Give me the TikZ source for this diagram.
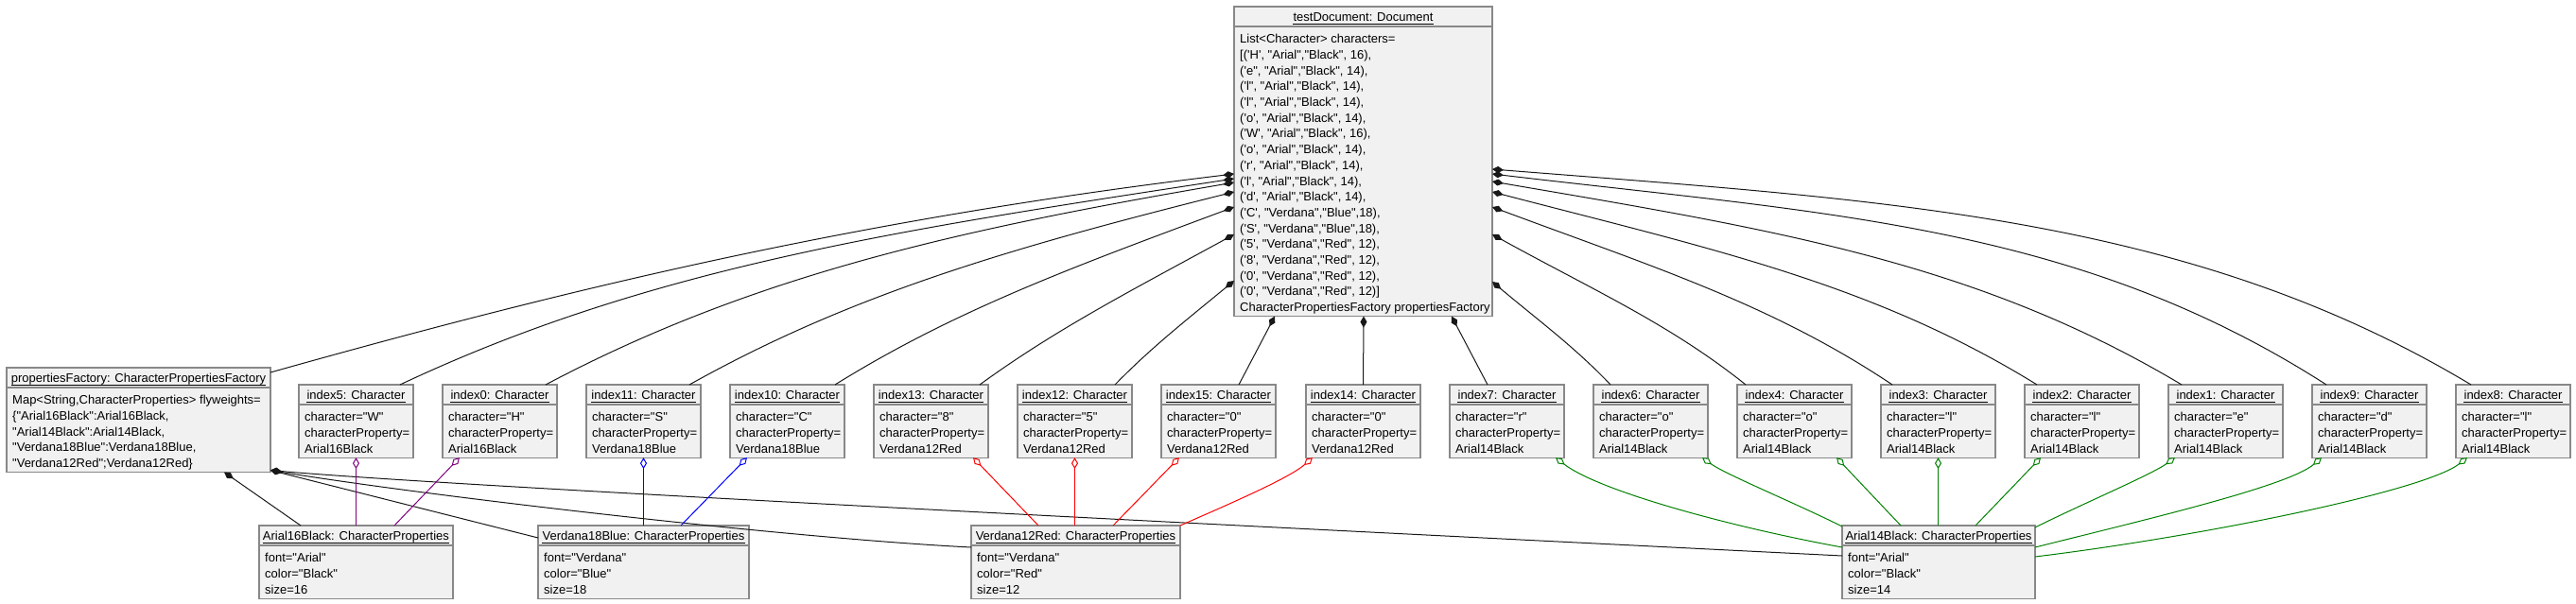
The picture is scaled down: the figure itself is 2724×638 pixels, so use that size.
\documentclass[tikz,border=0pt]{standalone}
\usepackage{fontspec}
\setmainfont{Liberation Sans}[Ligatures=TeXOff]
\usetikzlibrary{arrows.meta,calc}
\definecolor{boxfill}{HTML}{F1F1F1}
\definecolor{boxborder}{HTML}{888888}
\definecolor{lnk}{HTML}{181818}
\definecolor{cpurple}{HTML}{800080}
\definecolor{cblue}{HTML}{0000FF}
\definecolor{cred}{HTML}{FF0000}
\definecolor{cgreen}{HTML}{008000}
\newcommand{\objfont}{\fontsize{13pt}{16.7pt}\selectfont}
\tikzset{
  objbox/.style={draw=boxborder, fill=boxfill, line width=1.2pt, inner sep=0pt, outer sep=0pt, anchor=north west},
  divline/.style={draw=boxborder, line width=1.2pt},
  titletext/.style={anchor=base, inner sep=0pt, font=\objfont},
  bodytext/.style={anchor=north west, inner sep=0pt, align=left, font=\objfont},
  uline/.style={line width=0.9pt, draw=black},
  comp/.style={draw=lnk, line width=1pt, {Diamond[length=12pt,width=7pt]}-},
  aggr/.style={line width=1pt, {Diamond[length=12pt,width=7pt,fill=white]}-},
}
\newcommand{\umlobj}[7]{%
  \pgfmathsetmacro{\objh}{27+#5*16.7}%
  \node[objbox, minimum width=#4pt, minimum height=\objh pt] (#1) at (#2,#3) {};
  \draw[divline] ([shift={(0,21)}]#1.north west) -- ([shift={(0,21)}]#1.north east);
  \node[titletext] (#1-t) at ([shift={(0,15.5)}]#1.north) {#6};
  \draw[uline] ([shift={(0,2.5)}]#1-t.base west) -- ([shift={(0,2.5)}]#1-t.base east);
  \node[bodytext] (#1-b) at ([shift={(6,26)}]#1.north west) {\rule{0pt}{12.5pt}#7};
}
\begin{document}
\begin{tikzpicture}[x=1pt,y=-1pt]
\useasboundingbox (0,0) rectangle (2724,638);

% document
\umlobj{doc}{1305}{7}{273}{18}{testDocument: Document}{List<Character> characters=\\{[}('H', "Arial","Black", 16),\\('e", "Arial","Black", 14),\\('l", "Arial","Black", 14),\\('l", "Arial","Black", 14),\\('o', "Arial","Black", 14),\\('W', "Arial","Black", 16),\\('o', "Arial","Black", 14),\\('r', "Arial","Black", 14),\\('l', "Arial","Black", 14),\\('d', "Arial","Black", 14),\\('C', "Verdana","Blue",18),\\('S', "Verdana","Blue",18),\\('5', "Verdana","Red", 12),\\('8', "Verdana","Red", 12),\\('0', "Verdana","Red", 12),\\('0', "Verdana","Red", 12)]\\CharacterPropertiesFactory propertiesFactory}

% factory
\umlobj{fac}{7}{389}{279}{5}{propertiesFactory: CharacterPropertiesFactory}{Map<String,CharacterProperties> flyweights=\\\{"Arial16Black":Arial16Black,\\"Arial14Black":Arial14Black,\\"Verdana18Blue":Verdana18Blue,\\"Verdana12Red";Verdana12Red\}}

% characters
\umlobj{i5}{316}{407}{121}{3}{index5: Character}{character="W"\\characterProperty=\\Arial16Black}
\umlobj{i0}{468}{407}{121}{3}{index0: Character}{character="H"\\characterProperty=\\Arial16Black}
\umlobj{i11}{620}{407}{121}{3}{index11: Character}{character="S"\\characterProperty=\\Verdana18Blue}
\umlobj{i10}{772}{407}{121}{3}{index10: Character}{character="C"\\characterProperty=\\Verdana18Blue}
\umlobj{i13}{924}{407}{121}{3}{index13: Character}{character="8"\\characterProperty=\\Verdana12Red}
\umlobj{i12}{1076}{407}{121}{3}{index12: Character}{character="5"\\characterProperty=\\Verdana12Red}
\umlobj{i15}{1228}{407}{121}{3}{index15: Character}{character="0"\\characterProperty=\\Verdana12Red}
\umlobj{i14}{1381}{407}{121}{3}{index14: Character}{character="0"\\characterProperty=\\Verdana12Red}
\umlobj{i7}{1533}{407}{121}{3}{index7: Character}{character="r"\\characterProperty=\\Arial14Black}
\umlobj{i6}{1685}{407}{121}{3}{index6: Character}{character="o"\\characterProperty=\\Arial14Black}
\umlobj{i4}{1837}{407}{121}{3}{index4: Character}{character="o"\\characterProperty=\\Arial14Black}
\umlobj{i3}{1989}{407}{121}{3}{index3: Character}{character="l"\\characterProperty=\\Arial14Black}
\umlobj{i2}{2141}{407}{121}{3}{index2: Character}{character="l"\\characterProperty=\\Arial14Black}
\umlobj{i1}{2293}{407}{121}{3}{index1: Character}{character="e"\\characterProperty=\\Arial14Black}
\umlobj{i9}{2445}{407}{121}{3}{index9: Character}{character="d"\\characterProperty=\\Arial14Black}
\umlobj{i8}{2597}{407}{121}{3}{index8: Character}{character="l"\\characterProperty=\\Arial14Black}

% properties
\umlobj{ar16}{274}{556}{205}{3}{Arial16Black: CharacterProperties}{font="Arial"\\color="Black"\\size=16}
\umlobj{v18}{569}{556}{223}{3}{Verdana18Blue: CharacterProperties}{font="Verdana"\\color="Blue"\\size=18}
\umlobj{v12}{1027}{556}{221}{3}{Verdana12Red: CharacterProperties}{font="Verdana"\\color="Red"\\size=12}
\umlobj{ar14}{1948}{556}{204}{3}{Arial14Black: CharacterProperties}{font="Arial"\\color="Black"\\size=14}

% document compositions
\draw[comp] ([shift={(0,177)}]doc.north west) .. controls +(-408,49) and +(306,-86) .. ([shift={(0,5)}]fac.north east);
\draw[comp] ([shift={(0,182)}]doc.north west) .. controls +(-353,54) and +(265,-125) .. ([shift={(107,0)}]i5.north west);
\draw[comp] ([shift={(0,186)}]doc.north west) .. controls +(-292,50) and +(219,-116) .. ([shift={(109,0)}]i0.north west);
\draw[comp] ([shift={(0,196)}]doc.north west) .. controls +(-231,58) and +(173,-97) .. ([shift={(109,0)}]i11.north west);
\draw[comp] ([shift={(0,212)}]doc.north west) .. controls +(-169,63) and +(127,-79) .. ([shift={(111,0)}]i10.north west);
\draw[comp] ([shift={(0,241)}]doc.north west) .. controls +(-108,59) and +(81,-59) .. ([shift={(112,0)}]i13.north west);
\draw[comp] ([shift={(0,290)}]doc.north west) .. controls +(-51,42) and +(38,-39) .. ([shift={(103,0)}]i12.north west);
\draw[comp] ([shift={(43,0)}]doc.south west) -- ([shift={(82,0)}]i15.north west);
\draw[comp] ([shift={(137,0)}]doc.south west) -- ([shift={(60.5,0)}]i14.north west);
\draw[comp] ([shift={(230,0)}]doc.south west) -- ([shift={(40,0)}]i7.north west);
\draw[comp] ([shift={(0,172)}]doc.north east) .. controls +(414,33) and +(-300,-180) .. ([shift={(16,0)}]i8.north west);
\draw[comp] ([shift={(0,177)}]doc.north east) .. controls +(353,42) and +(-265,-170) .. ([shift={(15,0)}]i9.north west);
\draw[comp] ([shift={(0,185)}]doc.north east) .. controls +(292,50) and +(-219,-131) .. ([shift={(14,0)}]i1.north west);
\draw[comp] ([shift={(0,196)}]doc.north east) .. controls +(230,60) and +(-173,-107) .. ([shift={(13,0)}]i2.north west);
\draw[comp] ([shift={(0,212)}]doc.north east) .. controls +(169,63) and +(-127,-85) .. ([shift={(12,0)}]i3.north west);
\draw[comp] ([shift={(0,241)}]doc.north east) .. controls +(107,59) and +(-80,-64) .. ([shift={(9,0)}]i4.north west);
\draw[comp] ([shift={(0,291)}]doc.north east) .. controls +(50,42) and +(-38,-40) .. ([shift={(18,0)}]i6.north west);

% factory compositions
\draw[comp] ([shift={(230,0)}]fac.south west) -- ([shift={(44,0)}]ar16.north west);
\draw[comp] ([shift={(0,-2)}]fac.south east) -- ([shift={(0,13)}]v18.north west);
\draw[comp] ([shift={(0,-2)}]fac.south east) .. controls +(150,25) and +(-200,-10) .. ([shift={(0,23)}]v12.north west);
\draw[comp] ([shift={(0,-2)}]fac.south east) .. controls +(200,18) and +(-500,-25) .. ([shift={(0,32)}]ar14.north west);

% aggregations
\draw[aggr, draw=cpurple] (i5.south) -- ([shift={(102.5,0)}]ar16.north west);
\draw[aggr, draw=cpurple] ([shift={(18,0)}]i0.south west) -- ([shift={(143,0)}]ar16.north west);
\draw[aggr, draw=cblue] (i11.south) -- ([shift={(111.5,0)}]v18.north west);
\draw[aggr, draw=cblue] ([shift={(18,0)}]i10.south west) -- ([shift={(151,0)}]v18.north west);
\draw[aggr, draw=cred] ([shift={(105,0)}]i13.south west) -- ([shift={(71,0)}]v12.north west);
\draw[aggr, draw=cred] (i12.south) -- ([shift={(109.5,0)}]v12.north west);
\draw[aggr, draw=cred] ([shift={(19,0)}]i15.south west) -- ([shift={(150,0)}]v12.north west);
\draw[aggr, draw=cred] ([shift={(7,0)}]i14.south west) .. controls +(-25,22) and +(50,-22) .. (v12.north east);
\draw[aggr, draw=cgreen] ([shift={(112,0)}]i7.south west) .. controls +(45,35) and +(-120,-22) .. ([shift={(0,23)}]ar14.north west);
\draw[aggr, draw=cgreen] ([shift={(115,0)}]i6.south west) .. controls +(25,18) and +(-50,-25) .. ([shift={(0,1)}]ar14.north west);
\draw[aggr, draw=cgreen] ([shift={(105,0)}]i4.south west) -- ([shift={(62,0)}]ar14.north west);
\draw[aggr, draw=cgreen] (i3.south) -- ([shift={(101.5,0)}]ar14.north west);
\draw[aggr, draw=cgreen] ([shift={(17,0)}]i2.south west) -- ([shift={(141,0)}]ar14.north west);
\draw[aggr, draw=cgreen] ([shift={(7,0)}]i1.south west) .. controls +(-25,18) and +(50,-25) .. ([shift={(0,2)}]ar14.north east);
\draw[aggr, draw=cgreen] ([shift={(10,0)}]i9.south west) .. controls +(-35,30) and +(120,-30) .. ([shift={(0,23)}]ar14.north east);
\draw[aggr, draw=cgreen] ([shift={(12,0)}]i8.south west) .. controls +(-45,35) and +(180,-22) .. ([shift={(0,33)}]ar14.north east);
\end{tikzpicture}
\end{document}
